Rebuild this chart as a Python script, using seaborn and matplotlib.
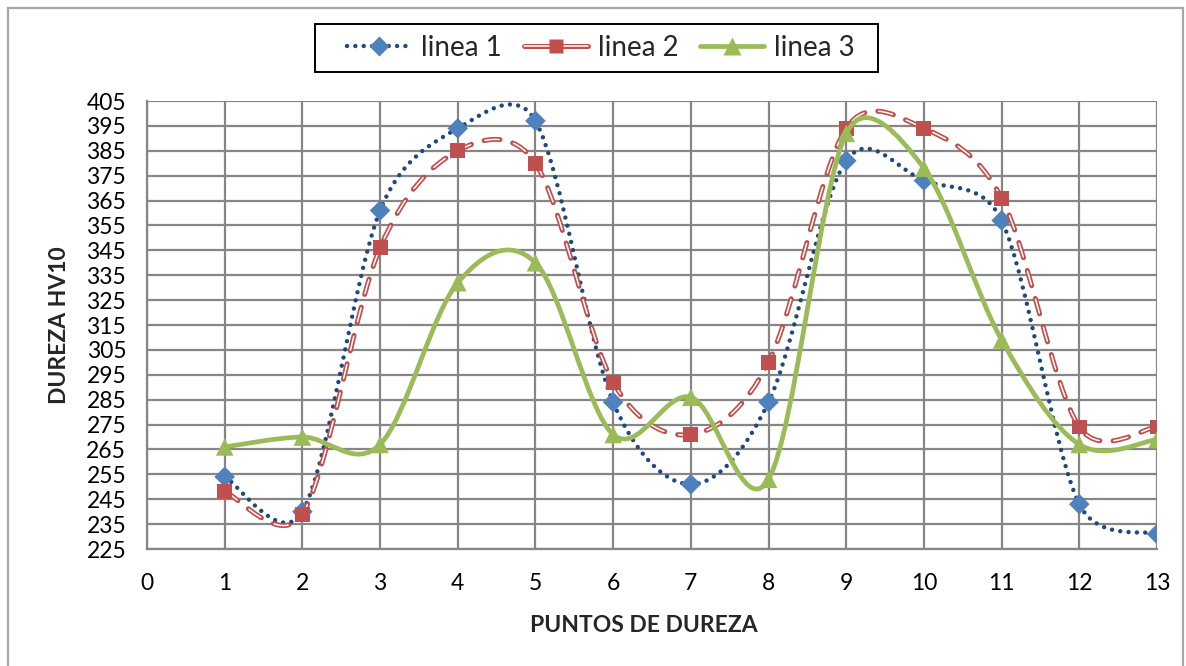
import numpy as np
import pandas as pd
import matplotlib
matplotlib.use("Agg")
import matplotlib.pyplot as plt
import seaborn as sns
from matplotlib.path import Path
from matplotlib.patches import PathPatch, Rectangle
from matplotlib.lines import Line2D
from matplotlib.legend_handler import HandlerTuple

# ---- data ----
puntos = [1, 2, 3, 4, 5, 6, 7, 8, 9, 10, 11, 12, 13]
linea1 = [254, 240, 361, 394, 397, 284, 251, 284, 381, 373, 357, 243, 231]
linea2 = [248, 239, 346, 385, 380, 292, 271, 300, 394, 394, 366, 274, 274]
linea3 = [266, 270, 267, 332, 340, 271, 286, 253, 392, 378, 309, 267, 269]
series_names = ["linea 1", "linea 2", "linea 3"]
y_ticks = list(range(225, 406, 10))
x_ticks = list(range(0, 14))

sns.set_theme(style="white")
plt.rcParams["font.family"] = ["Lato", "DejaVu Sans"]
plt.rcParams["lines.scale_dashes"] = False

FS_TICK = 16.5
FS_LAB = 16.5
FS_LEG = 20

W, H = 1186, 666
fig = plt.figure(figsize=(W / 100, H / 100), dpi=100)
ax = fig.add_axes([147 / W, 1 - 549 / H, (1157 - 147) / W, (549 - 101) / H])

ax.set_xlim(0, 13)
ax.set_ylim(225, 405)
ax.set_xticks(x_ticks)
ax.set_yticks(y_ticks)
ax.grid(True, color="#868686", lw=1.6)
ax.set_axisbelow(True)
for s in ax.spines.values():
    s.set_visible(False)
for side in ("left", "bottom"):
    ax.spines[side].set_visible(True)
    ax.spines[side].set_color("#868686")
    ax.spines[side].set_linewidth(1.6)
ax.tick_params(axis="both", direction="out", length=6, width=1.2, color="#868686",
               labelsize=FS_TICK, labelcolor="black")
ax.tick_params(axis="x", pad=11)
ax.tick_params(axis="y", pad=9)


def smooth_path(xs, ys):
    """Excel-like smoothed line: Bezier segments with tangents (P[i+1]-P[i-1])/6,
    limited to half of the segment length (computed in screen space)."""
    pts = ax.transData.transform(np.column_stack([xs, ys]).astype(float))
    n = len(pts)
    verts = [pts[0]]
    codes = [Path.MOVETO]
    for i in range(n - 1):
        p0 = pts[max(i - 1, 0)]
        p1 = pts[i]
        p2 = pts[i + 1]
        p3 = pts[min(i + 2, n - 1)]
        d12 = np.hypot(*(p2 - p1))
        t1 = (p2 - p0) / 6.0
        t2 = (p3 - p1) / 6.0
        l1 = np.hypot(*t1)
        l2 = np.hypot(*t2)
        if l1 > d12 / 2:
            t1 = t1 * (d12 / 2) / l1
        if l2 > d12 / 2:
            t2 = t2 * (d12 / 2) / l2
        verts += [p1 + t1, p2 - t2, p2]
        codes += [Path.CURVE4] * 3
    verts = ax.transData.inverted().transform(np.array(verts))
    return Path(verts, codes)


blue_line = "#1F497D"
blue_mk = "#4F81BD"
red = "#C0504D"
green = "#9BBB59"

df = pd.DataFrame({"punto": puntos * 3,
                   "valor": linea1 + linea2 + linea3,
                   "serie": [series_names[0]] * 13 + [series_names[1]] * 13 + [series_names[2]] * 13})

# linea 1
p1 = smooth_path(puntos, linea1)
ax.add_patch(PathPatch(p1, fill=False, edgecolor=blue_line, lw=3.2,
                       linestyle=(0, (0.01, 6.0)), capstyle="round", zorder=3))
sns.scatterplot(data=df[df.serie == series_names[0]], x="punto", y="valor", marker="D",
                s=110, color=blue_mk, edgecolor="none", ax=ax, zorder=4, legend=False)

# linea 2
p2 = smooth_path(puntos, linea2)
ax.add_patch(PathPatch(p2, fill=False, edgecolor=red, lw=3.6,
                       linestyle=(0, (11.5, 9.5)), capstyle="round", zorder=5))
ax.add_patch(PathPatch(p2, fill=False, edgecolor="white", lw=1.1,
                       linestyle=(-0.6, (10.3, 10.7)), capstyle="round", zorder=5.1))
sns.scatterplot(data=df[df.serie == series_names[1]], x="punto", y="valor", marker="s",
                s=115, color=red, edgecolor="none", ax=ax, zorder=6, legend=False)

# linea 3
p3 = smooth_path(puntos, linea3)
ax.add_patch(PathPatch(p3, fill=False, edgecolor=green, lw=3.4,
                       capstyle="round", joinstyle="round", zorder=7))
sns.scatterplot(data=df[df.serie == series_names[2]], x="punto", y="valor", marker="^",
                s=160, color=green, edgecolor="none", ax=ax, zorder=8, legend=False)

ax.set_xlabel("PUNTOS DE DUREZA", fontsize=FS_LAB, fontweight="bold")
ax.xaxis.set_label_coords((643.5 - 147) / (1157 - 147), -(615 - 549) / (549 - 101))
ax.set_ylabel("DUREZA HV10", fontsize=FS_LAB, fontweight="bold", labelpad=12)

# legend
h1 = Line2D([], [], color=blue_line, lw=3.2, linestyle=(0, (0.01, 6.0)),
            dash_capstyle="round", marker="D", markersize=10.5, markerfacecolor=blue_mk,
            markeredgecolor="none")
h2a = Line2D([], [], color=red, lw=3.6, solid_capstyle="round")
h2b = Line2D([], [], color="white", lw=1.1, solid_capstyle="round")
h2c = Line2D([], [], color=red, lw=0, marker="s", markersize=10.5, markerfacecolor=red,
             markeredgecolor="none")
h3 = Line2D([], [], color=green, lw=3.4, marker="^", markersize=12.5, markerfacecolor=green,
            markeredgecolor="none")
leg = fig.legend([h1, (h2a, h2b, h2c), h3], series_names, loc="center",
                 bbox_to_anchor=(601 / W, 1 - 48 / H), ncol=3, fontsize=FS_LEG,
                 frameon=False, handlelength=2.3, columnspacing=0.8, handletextpad=0.35,
                 borderpad=0.2, borderaxespad=0,
                 handler_map={tuple: HandlerTuple(ndivide=1, pad=0)})
fig.patches.append(Rectangle((315 / W, 1 - 72 / H), (878 - 315) / W, 48 / H,
                             transform=fig.transFigure, fill=False, edgecolor="black",
                             lw=1.4, zorder=1))

# outer chart border
fig.patches.append(Rectangle((8 / W, -0.05), (1183 - 8) / W, 1 - 8 / H + 0.05,
                             transform=fig.transFigure, fill=False, edgecolor="#A6A6A6",
                             lw=1.6, zorder=0))

fig.savefig("out.png", dpi=100)
